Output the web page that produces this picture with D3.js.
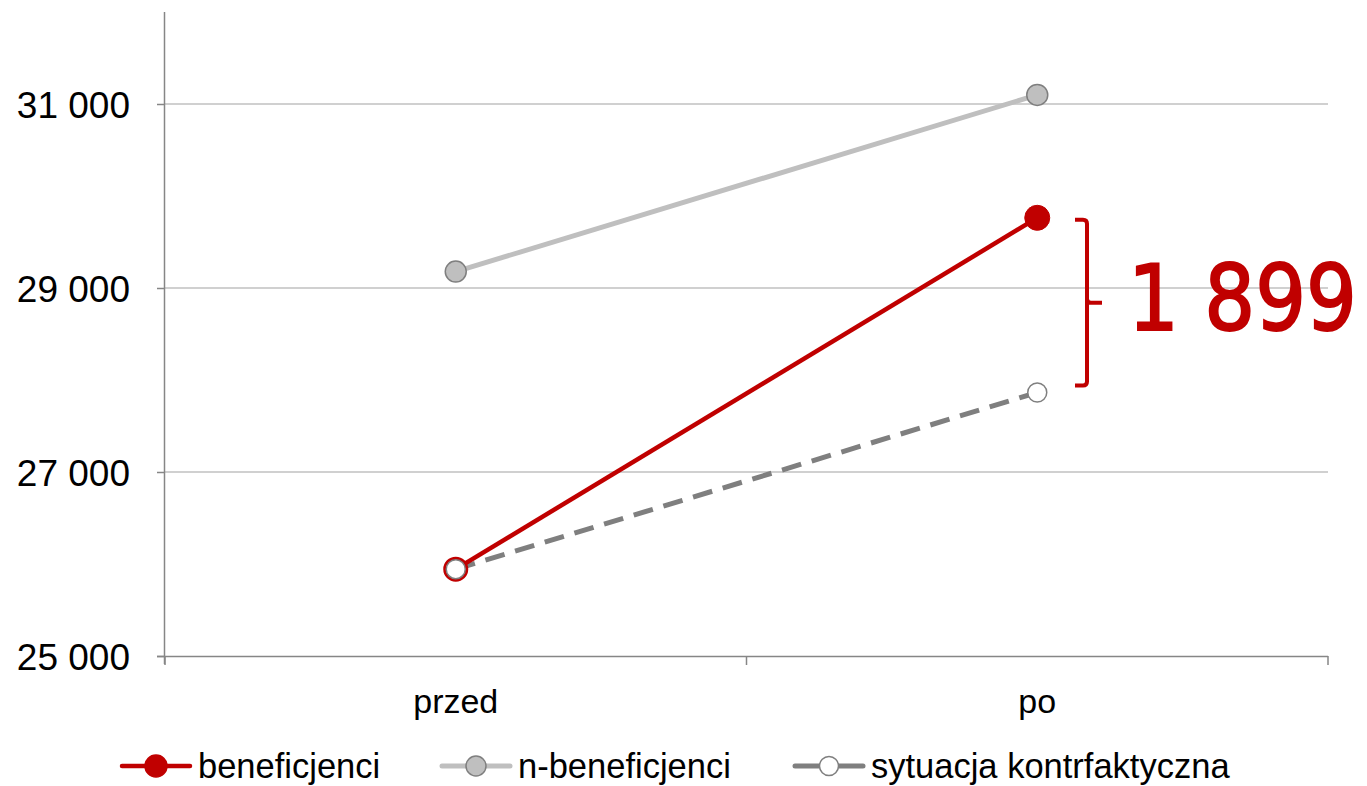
<!DOCTYPE html>
<html><head><meta charset="utf-8">
<script src="https://cdn.jsdelivr.net/npm/d3@7"></script>
<style>body{margin:0;background:#fff}svg{display:block}</style>
</head><body>
<script>
const categories = ["przed", "po"];
const beneficjenci = [25944, 29763];
const nBeneficjenci = [29178, 31099];
const kontrfaktyczna = [25944, 27864];
const yTicks = [25000, 27000, 29000, 31000];
const diffLabel = "1 899";
const legendLabels = ["beneficjenci", "n-beneficjenci", "sytuacja kontrfaktyczna"];

const W = 1367, H = 786;
const svg = d3.select("body").append("svg").attr("width", W).attr("height", H);
const pLeft = 165, pRight = 1328, pTop = 12, pBottom = 656;
const x = d3.scaleBand().domain(categories).range([pLeft, pRight]).padding(0);
const y = d3.scaleLinear().domain([25000, 32000]).range([pBottom, pTop]);
const cx = c => x(c) + x.bandwidth() / 2;
const axisFont = "'Liberation Sans', Arial, sans-serif";

// gridlines
svg.append("g").selectAll("line").data(yTicks.slice(1)).join("line")
  .attr("x1", pLeft).attr("x2", pRight).attr("y1", d => y(d)).attr("y2", d => y(d))
  .attr("stroke", "#c0c0c0").attr("stroke-width", 1.3);

// y axis
const yAxis = svg.append("g").attr("transform", `translate(${pLeft},0)`)
  .call(d3.axisLeft(y).tickValues(yTicks).tickSize(8).tickPadding(27)
    .tickFormat(d => d3.format(",")(d).replace(",", " ")));
yAxis.select(".domain").attr("stroke", "#868686").attr("stroke-width", 1.5).attr("d", `M-0.5,${pTop}V${pBottom+8}`);
yAxis.selectAll(".tick line").attr("stroke", "#868686").attr("stroke-width", 1.5);
yAxis.selectAll(".tick text").attr("font-family", axisFont).attr("font-size", 37).attr("fill", "#000").attr("dy", "0.36em");

// x axis
const xAxis = svg.append("g").attr("transform", `translate(0,${pBottom})`)
  .call(d3.axisBottom(x).tickSize(0).tickPadding(57));
xAxis.select(".domain").attr("stroke", "#868686").attr("stroke-width", 1.5).attr("d", `M${pLeft-8},0.5H${pRight}`);
xAxis.selectAll(".tick text").attr("font-family", axisFont).attr("font-size", 34).attr("fill", "#000").attr("dy", 0);
xAxis.append("g").selectAll("line").data([pLeft, pLeft + x.bandwidth(), pRight]).join("line")
  .attr("x1", d => d).attr("x2", d => d).attr("y1", 0).attr("y2", 9)
  .attr("stroke", "#868686").attr("stroke-width", 1.5);

const line = d3.line().x((d, i) => cx(categories[i])).y(d => y(d));

// lines
svg.append("path").datum(nBeneficjenci).attr("d", line).attr("fill", "none")
  .attr("stroke", "#bfbfbf").attr("stroke-width", 5);
svg.append("path").datum(kontrfaktyczna).attr("d", line).attr("fill", "none")
  .attr("stroke", "#7f7f7f").attr("stroke-width", 5).attr("stroke-dasharray", "20,11");
svg.append("path").datum(beneficjenci).attr("d", line).attr("fill", "none")
  .attr("stroke", "#c00000").attr("stroke-width", 4.5);

// markers
svg.append("g").selectAll("circle").data(nBeneficjenci).join("circle")
  .attr("cx", (d, i) => cx(categories[i])).attr("cy", d => y(d)).attr("r", 10.5)
  .attr("fill", "#bfbfbf").attr("stroke", "#7f7f7f").attr("stroke-width", 1.5);
svg.append("circle").attr("cx", cx(categories[0])).attr("cy", y(beneficjenci[0])).attr("r", 11)
  .attr("fill", "#fff").attr("stroke", "#c00000").attr("stroke-width", 3);
svg.append("circle").attr("cx", cx(categories[1])).attr("cy", y(beneficjenci[1])).attr("r", 12.5)
  .attr("fill", "#c00000").attr("stroke", "#c00000").attr("stroke-width", 1);
svg.append("g").selectAll("circle").data(kontrfaktyczna).join("circle")
  .attr("cx", (d, i) => cx(categories[i])).attr("cy", d => y(d)).attr("r", 9.5)
  .attr("fill", "#fff").attr("stroke", "#7f7f7f").attr("stroke-width", 1.5);

// bracket
const bx = 1075, bTop = y(beneficjenci[1]) + 2, bBot = y(kontrfaktyczna[1]) - 7, bMid = (bTop + bBot) / 2;
svg.append("path")
  .attr("d", `M${bx},${bTop} H${bx+8} Q${bx+12},${bTop} ${bx+12},${bTop+4} V${bMid-4} Q${bx+12},${bMid} ${bx+16},${bMid} H${bx+27}
              M${bx+12},${bMid-4} V${bBot-4} Q${bx+12},${bBot} ${bx+8},${bBot} H${bx}`)
  .attr("fill", "none").attr("stroke", "#c00000").attr("stroke-width", 4);
svg.append("text").attr("transform", "translate(1128,330) scale(1,1.14)").text(diffLabel)
  .attr("font-family", "'DejaVu Sans', Verdana, sans-serif").attr("font-size", 80)
  .attr("fill", "#c00000").attr("stroke", "#c00000").attr("stroke-width", 1.8);

// legend
const legendFont = "'Liberation Sans', Arial, sans-serif";
const legItems = [
  { label: legendLabels[0], x0: 122, stroke: "#c00000", sw: 4.5, fill: "#c00000", mstroke: "#c00000", r: 11 },
  { label: legendLabels[1], x0: 442, stroke: "#bfbfbf", sw: 5, fill: "#bfbfbf", mstroke: "#7f7f7f", r: 10 },
  { label: legendLabels[2], x0: 795, stroke: "#7f7f7f", sw: 5, fill: "#fff", mstroke: "#7f7f7f", r: 9.5 }
];
const ly = 766;
const lg = svg.append("g").selectAll("g").data(legItems).join("g").attr("transform", d => `translate(${d.x0},${ly})`);
lg.append("line").attr("x1", 0).attr("x2", 68).attr("stroke", d => d.stroke).attr("stroke-width", d => d.sw).attr("stroke-linecap", "round");
lg.append("circle").attr("cx", 34).attr("r", d => d.r).attr("fill", d => d.fill).attr("stroke", d => d.mstroke).attr("stroke-width", 1.5);
lg.append("text").attr("x", 76).attr("dy", "0.34em").text(d => d.label)
  .attr("font-family", legendFont).attr("font-size", 34.5).attr("fill", "#000");
</script>
</body></html>
